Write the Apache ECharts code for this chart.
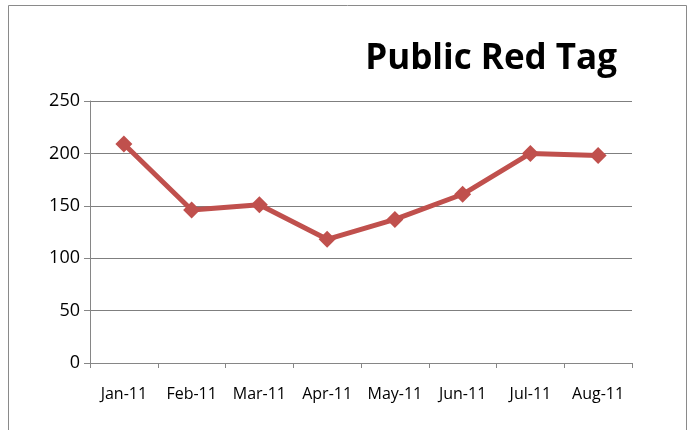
<!DOCTYPE html>
<html>
<head>
<meta charset="utf-8">
<script src="https://cdn.jsdelivr.net/npm/echarts@6/dist/echarts.min.js"></script>
<style>
  html, body { margin: 0; padding: 0; background: #fff; }
  #chart { width: 694px; height: 430px; }
</style>
</head>
<body>
<div id="chart"></div>
<script>
const months = ['Jan-11', 'Feb-11', 'Mar-11', 'Apr-11', 'May-11', 'Jun-11', 'Jul-11', 'Aug-11']
const redTagCounts = [209, 146, 151, 118, 137, 161, 200, 198]
const labelFont = '"Open Sans", sans-serif'

const chart = echarts.init(document.getElementById('chart'))

chart.setOption({
  animation: false,
  title: {
    text: 'Public Red Tag',
    right: 72,
    top: 37,
    textStyle: {
      fontFamily: labelFont,
      fontSize: 35,
      fontWeight: 'bold',
      color: '#000'
    }
  },
  graphic: [
    {
      type: 'rect',
      shape: { x: 8.5, y: 5.5, width: 678, height: 440 },
      style: { fill: 'none', stroke: '#8a8a8a', lineWidth: 1 },
      silent: true
    }
  ],
  grid: {
    left: 90,
    right: 62,
    top: 101,
    bottom: 67
  },
  xAxis: {
    type: 'category',
    data: months,
    boundaryGap: true,
    axisLine: { lineStyle: { color: '#868686' } },
    axisTick: { show: true, interval: 0, length: 5, lineStyle: { color: '#868686' } },
    axisLabel: {
      interval: 0,
      color: '#000',
      fontFamily: labelFont,
      fontSize: 16,
      margin: 23
    }
  },
  yAxis: {
    type: 'value',
    min: 0,
    max: 250,
    interval: 50,
    axisLine: { show: true, lineStyle: { color: '#868686' } },
    axisTick: { show: true, length: 6, lineStyle: { color: '#868686' } },
    axisLabel: {
      color: '#000',
      fontFamily: labelFont,
      fontSize: 18,
      margin: 10
    },
    splitLine: { lineStyle: { color: '#7f7f7f', width: 1 } }
  },
  series: [
    {
      name: 'Public Red Tag',
      type: 'line',
      data: redTagCounts,
      symbol: 'diamond',
      symbolSize: 17,
      lineStyle: { color: '#C0504D', width: 5 },
      itemStyle: { color: '#C0504D' }
    }
  ]
})
</script>
</body>
</html>
